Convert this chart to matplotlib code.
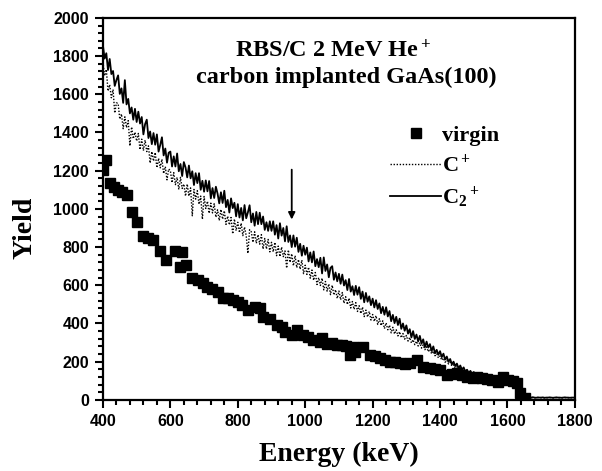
import matplotlib

matplotlib.use("Agg")
import matplotlib.pyplot as plt  # noqa: E402
import numpy as np  # noqa: E402
from matplotlib.ticker import MultipleLocator  # noqa: E402

# channel energies (keV) for the two implanted spectra, 5 keV step
STEP = 5
E_START, E_END = 400, 1800

# C2+ implanted (solid)
C2_YIELD = [
    1855, 1787, 1815, 1727, 1785, 1706, 1722, 1644, 1675, 1699, 1602, 1631, 1555, 1674, 1547, 1576, 1500, 1531, 1467, 1524,
    1455, 1509, 1447, 1481, 1390, 1444, 1467, 1371, 1405, 1339, 1397, 1336, 1390, 1300, 1335, 1375, 1280, 1316, 1242, 1294,
    1300, 1222, 1275, 1222, 1290, 1197, 1235, 1172, 1245, 1217, 1165, 1227, 1160, 1197, 1125, 1187, 1135, 1187, 1100, 1147,
    1090, 1149, 1092, 1146, 1055, 1109, 1057, 1116, 1080, 1029, 1087, 1031, 1095, 1009, 1047, 981, 1055, 1004, 1032, 961,
    1025, 955, 1005, 940, 1020, 951, 982, 1019, 930, 976, 912, 984, 920, 980, 920, 960, 890, 930, 885, 935,
    885, 935, 865, 915, 845, 925, 860, 900, 830, 909, 827, 861, 800, 861, 802, 849, 775, 817, 755, 807,
    760, 797, 725, 772, 720, 777, 700, 737, 695, 744, 662, 746, 675, 709, 642, 691, 700, 629, 667, 621,
    660, 608, 656, 599, 627, 575, 633, 567, 595, 549, 597, 551, 590, 529, 567, 511, 560, 514, 542, 496,
    530, 484, 522, 476, 505, 454, 487, 446, 485, 437, 465, 412, 445, 402, 435, 392, 425, 372, 400, 362,
    390, 347, 370, 327, 360, 319, 342, 306, 335, 294, 317, 276, 305, 274, 292, 256, 280, 244, 262, 236,
    255, 224, 242, 211, 227, 199, 214, 186, 200, 177, 190, 165, 180, 157, 170, 147, 158, 141, 152, 135,
    146, 130, 141, 127, 138, 123, 134, 122, 132, 118, 129, 117, 126, 115, 125, 113, 124, 112, 120, 109,
    116, 106, 112, 103, 108, 99, 101, 88, 68, 35,
    16, 14, 12, 13, 12, 14, 12, 11, 13, 12, 12, 13, 11, 12, 12, 13, 12, 11, 12, 13,
    12, 12, 11, 12, 13, 12, 12, 11, 12, 12, 12,
]

# C+ implanted (dotted)
C1_YIELD = [
    1770, 1697, 1730, 1617, 1650, 1582, 1625, 1502, 1555, 1552, 1470, 1497, 1420, 1482, 1425, 1462, 1330, 1429, 1367, 1401,
    1355, 1395, 1310, 1365, 1305, 1360, 1300, 1330, 1240, 1300, 1250, 1295, 1215, 1265, 1215, 1260, 1185, 1221, 1152, 1209,
    1200, 1137, 1190, 1127, 1165, 1102, 1165, 1107, 1130, 1067, 1130, 1067, 1110, 964, 1102, 1051, 1095, 1024, 1067, 946,
    1065, 1002, 1040, 977, 1030, 979, 1027, 956, 995, 939, 997, 946, 990, 919, 962, 916, 955, 869, 947, 886,
    930, 875, 925, 860, 905, 859, 767, 891, 880, 825, 880, 820, 865, 815, 865, 790, 845, 790, 840, 775,
    825, 775, 825, 755, 805, 750, 800, 750, 780, 690, 785, 720, 765, 702, 755, 692, 735, 684, 732, 661,
    705, 657, 695, 637, 680, 626, 667, 604, 640, 599, 637, 576, 620, 569, 607, 551, 600, 549, 577, 531,
    570, 524, 562, 506, 540, 499, 532, 481, 515, 474, 509, 463, 493, 452, 486, 436, 470, 434, 463, 418,
    447, 411, 441, 395, 425, 389, 414, 373, 403, 367, 391, 351, 380, 345, 367, 335, 357, 325, 347, 318,
    337, 308, 327, 298, 315, 289, 307, 282, 298, 271, 288, 263, 278, 252, 266, 241, 255, 231, 241, 220,
    230, 208, 219, 197, 208, 188, 197, 177, 184, 167, 174, 157, 164, 148, 154, 139, 145, 132, 140, 127,
    136, 124, 134, 122, 131, 119, 128, 117, 126, 114, 123, 112, 121, 110, 119, 108, 117, 106, 115, 104,
    110, 101, 106, 97, 101, 93, 96, 84, 64, 30,
    14, 12, 11, 12, 10, 12, 11, 10, 12, 11, 11, 12, 10, 11, 11, 12, 11, 10, 11, 12,
    11, 11, 10, 11, 12, 11, 11, 10, 11, 11, 11,
]

# virgin sample (squares)
VIRGIN_E = [400, 409, 421, 433, 445, 458, 470, 486, 500, 519, 533, 548, 569, 587, 614, 628, 634, 645,
            664, 682, 698, 709, 724, 741, 756, 771, 786, 800, 813, 831, 851, 866, 875, 896, 916, 930,
            940, 961, 976, 993, 1008, 1023, 1044, 1050, 1065, 1080, 1094, 1108, 1120, 1133, 1142, 1148,
            1171, 1192, 1207, 1222, 1237, 1252, 1266, 1281, 1296, 1311, 1331, 1350, 1370, 1385, 1400,
            1421, 1435, 1450, 1465, 1480, 1498, 1511, 1525, 1540, 1554, 1572, 1587, 1602, 1616, 1629,
            1638, 1652]
VIRGIN_Y = [1204, 1257, 1136, 1115, 1100, 1090, 1075, 985, 932, 860, 850, 838, 780, 733, 780, 697, 775, 707,
            638, 628, 610, 592, 578, 565, 534, 534, 524, 513, 497, 471, 487, 482, 435, 424, 393, 382,
            356, 340, 366, 340, 330, 314, 304, 325, 290, 298, 288, 288, 280, 236, 277, 251,
            275, 236, 230, 220, 210, 199, 196, 194, 190, 194, 209, 173, 168, 162, 157,
            131, 138, 141, 128, 120, 115, 118, 115, 110, 105, 94, 120, 105, 98, 89,
            37, 10]

LEGEND_LABELS = ["virgin", "C$^+$", "C$_2$$^+$"]
TITLE_1 = "RBS/C 2 MeV He$^+$"
TITLE_2 = "carbon implanted GaAs(100)"
ARROW_E, ARROW_TOP, ARROW_TIP = 960, 1220, 930

plt.rcParams["mathtext.fontset"] = "custom"
plt.rcParams["mathtext.rm"] = "Liberation Serif:bold"
plt.rcParams["mathtext.it"] = "Liberation Serif:bold"
plt.rcParams["mathtext.bf"] = "Liberation Serif:bold"

energy = np.arange(E_START, E_END + STEP, STEP)
assert len(energy) == len(C2_YIELD) == len(C1_YIELD)

fig = plt.figure(figsize=(6.02, 4.71), dpi=100)
ax = fig.add_axes([0.171, 0.151, 0.784, 0.811])

ax.plot(VIRGIN_E, VIRGIN_Y, "s", color="black", ms=7.5, mec="black", label=LEGEND_LABELS[0], zorder=3)
ax.plot(energy, C1_YIELD, color="black", lw=1.0, ls=(0, (1, 1.2)), label=LEGEND_LABELS[1])
ax.plot(energy, C2_YIELD, color="black", lw=1.3, label=LEGEND_LABELS[2])

ax.set_xlim(400, 1800)
ax.set_ylim(0, 2000)
ax.xaxis.set_major_locator(MultipleLocator(200))
ax.xaxis.set_minor_locator(MultipleLocator(40))
ax.yaxis.set_major_locator(MultipleLocator(200))
ax.yaxis.set_minor_locator(MultipleLocator(40))
ax.tick_params(which="both", direction="out", width=1.5, top=False, right=False)
ax.tick_params(which="major", length=6, pad=4)
ax.tick_params(which="minor", length=3.5)
for lab in ax.get_xticklabels() + ax.get_yticklabels():
    lab.set_fontfamily("Liberation Sans")
    lab.set_fontweight("bold")
    lab.set_fontsize(11.5)
for sp in ax.spines.values():
    sp.set_linewidth(1.6)

serif = dict(family="Liberation Serif", weight="bold")
ax.set_xlabel("Energy (keV)", fontsize=20, **serif)
ax.set_ylabel("Yield", fontsize=20, **serif)
ax.xaxis.set_label_coords(0.5, -0.11)
ax.yaxis.set_label_coords(-0.138, 0.45)

ax.text(792, 1796, TITLE_1, fontsize=17.5, ha="left", va="baseline", **serif)
ax.text(676, 1660, TITLE_2, fontsize=17.5, ha="left", va="baseline", **serif)

ax.annotate("", xy=(ARROW_E, ARROW_TIP), xytext=(ARROW_E, ARROW_TOP),
            arrowprops=dict(arrowstyle="-|>", color="black", lw=1.3, mutation_scale=10))

ax.legend(loc="upper left", bbox_to_anchor=(0.585, 0.747), frameon=False, borderpad=0,
          handlelength=2.3, handletextpad=0.05, labelspacing=0.35,
          prop=dict(family="Liberation Serif", weight="bold", size=16))

fig.savefig("out.png", dpi=100)
